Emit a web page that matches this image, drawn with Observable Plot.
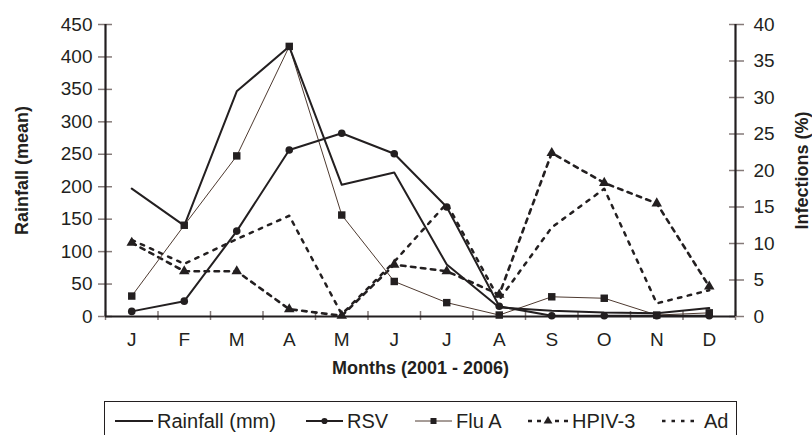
<!DOCTYPE html>
<html><head><meta charset="utf-8">
<script src="https://cdn.jsdelivr.net/npm/d3@7"></script>
<script src="https://cdn.jsdelivr.net/npm/@observablehq/plot@0.6"></script>
<style>
body{margin:0;background:#fff;font-family:"Liberation Sans",Arial,sans-serif;color:#231f20;}
#wrap{position:relative;width:812px;height:435px;overflow:hidden;background:#fff;}
#legend{position:absolute;left:104px;top:401px;width:633px;height:40px;border:1px solid #231f20;box-sizing:border-box;}
</style></head><body><div id="wrap"><div id="chart"></div><div id="legend"></div></div>
<script>
// ---- data ----
const monthKeys = ["Jan","Feb","Mar","Apr","May","Jun","Jul","Aug","Sep","Oct","Nov","Dec"];
const monthLabels = ["J","F","M","A","M","J","J","A","S","O","N","D"];
const rainfall = [197, 140, 347, 416, 203, 222, 80, 14, 9, 6, 5, 13];          // mm (left axis)
const rsv      = [0.7, 2.1, 11.7, 22.8, 25.1, 22.3, 15.0, 1.4, 0.1, 0.1, 0.1, 0.1]; // % (right axis)
const fluA     = [2.8, 12.5, 22.0, 37.0, 13.9, 4.8, 1.9, 0.2, 2.7, 2.5, 0.2, 0.5];
const hpiv3    = [10.1, 6.2, 6.2, 1.0, 0.1, 7.1, 6.2, 3.0, 22.4, 18.3, 15.5, 4.1];
const ad       = [10.5, 7.2, 10.6, 13.8, 0.3, 7.5, 15.5, 2.3, 12.2, 17.5, 1.8, 3.6];
const leftTicks  = [0, 50, 100, 150, 200, 250, 300, 350, 400, 450];
const rightTicks = [0, 5, 10, 15, 20, 25, 30, 35, 40];
const leftMax = 450, rightMax = 40;

// ---- build ----
const k = leftMax / rightMax;
const rows = monthKeys.map((m, i) => ({
  x: i + 0.5, rain: rainfall[i], rsv: rsv[i] * k, flu: fluA[i] * k, hpiv: hpiv3[i] * k, ad: ad[i] * k
}));
const ink = "#231f20", tickGray = "#857a78", fluColor = "#4e3a30";
const font = '"Liberation Sans", Arial, sans-serif';

const chart = Plot.plot({
  width: 812, height: 400,
  marginLeft: 105, marginRight: 77, marginTop: 24, marginBottom: 84,
  style: {fontFamily: font, fontSize: "19px", background: "white", color: ink},
  x: {type: "linear", domain: [0, 12]},
  y: {domain: [0, leftMax]},
  marks: [
    // tick marks (crossing the axis lines)
    Plot.axisY({anchor: "left", ticks: leftTicks, tickSize: 14, dx: 7, tickFormat: () => "", stroke: tickGray, strokeWidth: 1.5, label: null}),
    Plot.axisY({anchor: "right", ticks: rightTicks.map(v => v * k), tickSize: 15, dx: -7, tickFormat: () => "", stroke: tickGray, strokeWidth: 1.5, label: null}),
    Plot.axisX({anchor: "bottom", ticks: d3.range(0, 13), tickSize: 9, dy: -5, tickFormat: () => "", stroke: tickGray, strokeWidth: 1.5, label: null}),
    // tick labels
    Plot.axisY({anchor: "left", ticks: leftTicks, tickSize: 0, tickPadding: 13, fontSize: 19, fill: ink, label: null}),
    Plot.axisY({anchor: "right", ticks: rightTicks.map(v => v * k), tickSize: 0, tickPadding: 18, tickFormat: d => String(Math.round(d / k)), fontSize: 19, fill: ink, label: null}),
    Plot.axisX({anchor: "bottom", ticks: d3.range(12).map(i => i + 0.5), tickSize: 0, tickPadding: 16, tickFormat: d => monthLabels[Math.floor(d)], fontSize: 19, fill: ink, label: null}),
    // axis lines
    Plot.ruleX([0, 12], {stroke: ink, strokeWidth: 2.2}),
    Plot.ruleY([0], {stroke: ink, strokeWidth: 2.2}),
    // series
    Plot.line(rows, {x: "x", y: "ad", stroke: ink, strokeWidth: 2.5, strokeDasharray: "3.5,6.5"}),
    Plot.line(rows, {x: "x", y: "hpiv", stroke: ink, strokeWidth: 2.6, strokeDasharray: "4.5,5.5"}),
    Plot.line(rows, {x: "x", y: "flu", stroke: fluColor, strokeWidth: 1}),
    Plot.line(rows, {x: "x", y: "rsv", stroke: ink, strokeWidth: 2}),
    Plot.line(rows, {x: "x", y: "rain", stroke: ink, strokeWidth: 2}),
    Plot.dot(rows, {x: "x", y: "hpiv", symbol: "triangle", r: 3.9, fill: ink}),
    Plot.dot(rows, {x: "x", y: "flu", symbol: "square", r: 4.2, fill: ink}),
    Plot.dot(rows, {x: "x", y: "rsv", symbol: "circle", r: 3.8, fill: ink}),
    // axis titles
    Plot.text(["Rainfall (mean)"], {frameAnchor: "left", dx: -83, rotate: -90, textAnchor: "middle", fontWeight: "bold", fontSize: 18, fill: ink}),
    Plot.text(["Infections (%)"], {frameAnchor: "right", dx: 67, rotate: -90, textAnchor: "middle", fontWeight: "bold", fontSize: 18, fill: ink}),
    Plot.text(["Months (2001 - 2006)"], {frameAnchor: "bottom", dy: 57, textAnchor: "middle", fontWeight: "bold", fontSize: 18, fill: ink})
  ]
});
document.getElementById("chart").appendChild(chart);

// ---- legend ----
const legendItems = [
  {name: "Rainfall (mm)", x0: 10, x1: 48, dash: null, width: 2, color: ink, sym: null},
  {name: "RSV", x0: 201, x1: 238, dash: null, width: 2, color: ink, sym: "circle"},
  {name: "Flu A", x0: 310, x1: 347, dash: null, width: 1, color: fluColor, sym: "square"},
  {name: "HPIV-3", x0: 423, x1: 463, dash: "4,5", width: 2.6, color: ink, sym: "triangle"},
  {name: "Ad", x0: 557, x1: 595, dash: "3.5,6", width: 2.5, color: ink, sym: null}
];
const lsvg = d3.select("#legend").append("svg").attr("width", 631).attr("height", 38)
  .style("display", "block").style("font-family", font).style("font-size", "20px");
const symMap = {circle: d3.symbolCircle, square: d3.symbolSquare, triangle: d3.symbolTriangle};
const symSize = {circle: 30, square: 36, triangle: 34};
for (const it of legendItems) {
  const g = lsvg.append("g");
  const ly = 19;
  g.append("line").attr("x1", it.x0).attr("x2", it.x1).attr("y1", ly).attr("y2", ly)
    .attr("stroke", it.color).attr("stroke-width", it.width).attr("stroke-dasharray", it.dash);
  if (it.sym) g.append("path").attr("d", d3.symbol(symMap[it.sym], symSize[it.sym])())
    .attr("transform", `translate(${(it.x0 + it.x1) / 2},${ly})`).attr("fill", ink);
  g.append("text").attr("x", it.x1 + 4).attr("y", ly).attr("dy", "0.35em").attr("fill", ink).text(it.name);
}
</script>
</body></html>
